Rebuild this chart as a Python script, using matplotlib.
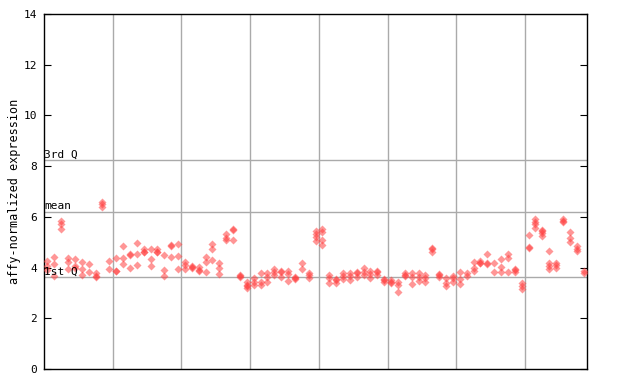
import numpy as np
import matplotlib
matplotlib.use("Agg")
import matplotlib.pyplot as plt

# replicate values per sample
samples = [
    [4.25, 4.05, 3.9], [4.42, 4.16, 3.66], [5.82, 5.72, 5.51], [4.37, 4.22, 3.95],
    [4.32, 4.05, 4.0], [4.22, 3.96, 3.7], [4.16, 3.83], [3.77, 3.68, 3.64],
    [6.59, 6.5, 6.37], [4.25, 3.93], [4.38, 3.88, 3.86], [4.84, 4.36, 4.16],
    [4.55, 4.5, 3.99], [4.95, 4.52, 4.09], [4.72, 4.63, 4.6], [4.72, 4.32, 4.06],
    [4.75, 4.62, 4.6], [4.49, 3.9, 3.66], [4.88, 4.84, 4.4], [4.92, 4.45, 3.94],
    [4.22, 4.12, 3.96], [4.06, 4.04, 3.99], [4.03, 3.9, 3.87], [4.42, 4.22, 3.81],
    [4.92, 4.75, 4.29], [4.2, 3.99, 3.74], [5.31, 5.18, 5.08], [5.52, 5.48, 5.08],
    [3.72, 3.68, 3.61], [3.44, 3.31, 3.28, 3.2], [3.57, 3.44, 3.33], [3.77, 3.44, 3.33],
    [3.77, 3.63, 3.44], [3.93, 3.83, 3.7], [3.85, 3.81, 3.61], [3.87, 3.73, 3.48],
    [3.62, 3.58, 3.54], [4.2, 3.93], [3.79, 3.7, 3.57], [5.44, 5.32, 5.2, 5.06],
    [5.54, 5.41, 5.08, 4.88], [3.7, 3.57, 3.41], [3.55, 3.5, 3.41], [3.79, 3.66, 3.53],
    [3.79, 3.66, 3.5], [3.81, 3.77, 3.63], [3.99, 3.83, 3.7], [3.86, 3.73, 3.57],
    [3.85, 3.81, 3.7], [3.55, 3.5, 3.44], [3.52, 3.44, 3.4], [3.44, 3.31, 3.04],
    [3.77, 3.7, 3.66], [3.77, 3.61, 3.37], [3.77, 3.63, 3.48], [3.7, 3.57, 3.44],
    [4.77, 4.72, 4.62], [3.75, 3.7, 3.63], [3.57, 3.4, 3.28], [3.65, 3.6, 3.44],
    [3.81, 3.54, 3.35], [3.77, 3.66], [4.22, 3.99, 3.86], [4.25, 4.2, 4.18],
    [4.52, 4.18, 4.14], [4.2, 3.83], [4.32, 4.03, 3.83], [4.53, 4.36, 3.83],
    [3.95, 3.9, 3.83], [3.4, 3.27, 3.14], [5.3, 4.8, 4.76], [5.93, 5.8, 5.7, 5.56],
    [5.5, 5.46, 5.37, 5.26], [4.65, 4.19, 4.06, 3.96], [4.2, 4.09, 4.0], [5.93, 5.82, 5.78],
    [5.41, 5.18, 5.01], [4.86, 4.72, 4.66], [3.87, 3.77],
]
group_bounds = [10, 20, 30, 40, 50, 60, 70]
q3, mean, q1 = 8.23, 6.19, 3.61
yticks = [0, 2, 4, 6, 8, 10, 12, 14]

plt.rcParams['font.family'] = 'DejaVu Sans Mono'
fig = plt.figure(figsize=(6.4, 3.84), dpi=100)
ax = fig.add_axes([44/640, 15/384, 543/640, 355/384])

for b in group_bounds:
    ax.axvline(b, color='#aaaaaa', lw=1, zorder=1)
for v in (q3, mean, q1):
    ax.axhline(v, color='#aaaaaa', lw=1, zorder=1)

for i, vals in enumerate(samples):
    ax.plot([i + 0.5] * len(vals), vals, 'D', ms=4.2, color='#ff4040',
            alpha=0.55, mec='none', zorder=3)

ax.text(0.05, q3 + 0.04, '3rd Q', fontsize=8, va='bottom', ha='left', zorder=4)
ax.text(0.05, mean + 0.04, 'mean', fontsize=8, va='bottom', ha='left', zorder=4)
ax.text(0.05, q1 + 0.04, '1st Q', fontsize=8, va='bottom', ha='left', zorder=4)

ax.set_xlim(0, len(samples))
ax.set_ylim(0, 14)
ax.set_xticks([])
ax.set_yticks(yticks)
ax.tick_params(axis='y', direction='in', length=5, labelsize=8, right=True, pad=5)
for s in ax.spines.values():
    s.set_linewidth(1)
ax.set_ylabel('affy-normalized expression', fontsize=8.5, labelpad=2)

fig.savefig('out.png', dpi=100)
